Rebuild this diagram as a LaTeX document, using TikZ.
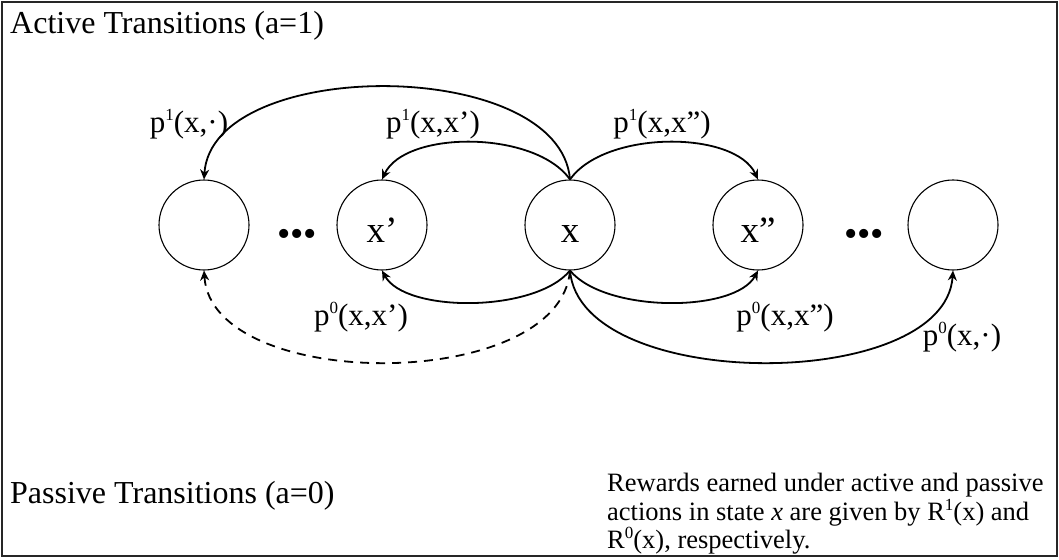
\documentclass[tikz,border=0pt]{standalone}
\usepackage{fontspec}
\setmainfont{Liberation Serif}
\usetikzlibrary{arrows.meta}
\newcommand\supnum[1]{\raisebox{0.38em}{\fontsize{17}{17}\selectfont #1}}
\newcommand\inlabel[1]{\smash{\raisebox{-17pt}{#1}}}

\begin{document}
\begin{tikzpicture}[x=1pt,y=-1pt,
  state/.style={draw, circle, line width=1.1pt, minimum size=90pt, inner sep=0pt, font=\fontsize{37}{40}\selectfont},
  lbl/.style={inner sep=0pt, font=\fontsize{31}{34}\selectfont},
  arrow/.style={-{Stealth[length=10pt,width=9pt]}, line width=1.8pt},
  heading/.style={inner sep=0pt, anchor=west, font=\fontsize{32}{36}\selectfont}]
\useasboundingbox (0,0) rectangle (1059,559);
\draw[line width=1.6pt, black!85] (2,2) rectangle (1057,556);
% states
\node[state] (s0) at (204,225) {};
\node[state] (s1) at (382,225) {\inlabel{x’}};
\node[state] (s2) at (570,225) {\inlabel{x}};
\node[state] (s3) at (758,225) {\inlabel{x”}};
\node[state] (s4) at (953,225) {};
\node[lbl, font=\fontsize{38}{40}\selectfont] (d0) at (297,238) {\textbullet\textbullet\textbullet};
\node[lbl, font=\fontsize{38}{40}\selectfont] (d1) at (864,238) {\textbullet\textbullet\textbullet};
% active transitions
\draw[arrow] (s2.north) .. controls (560,56) and (212,56) .. (s0.north);
\draw[arrow] (s2.north) .. controls (535,130) and (405,130) .. (s1.north);
\draw[arrow] (s2.north) .. controls (605,130) and (735,130) .. (s3.north);
\node[lbl] (a0) at (189,124) {p\supnum{1}(x,·)};
\node[lbl] (a1) at (433,124) {p\supnum{1}(x,x’)};
\node[lbl] (a2) at (662,124) {p\supnum{1}(x,x”)};
% passive transitions
\draw[arrow] (s2.south) .. controls (535,313) and (405,313) .. (s1.south);
\draw[arrow] (s2.south) .. controls (605,313) and (735,313) .. (s3.south);
\draw[arrow] (s2.south) .. controls (580,393) and (945,393) .. (s4.south);
\draw[arrow, dashed, dash pattern=on 9pt off 7pt] (s2.south) .. controls (560,393) and (212,393) .. (s0.south);
\node[lbl] (b1) at (361,317) {p\supnum{0}(x,x’)};
\node[lbl] (b2) at (785,317) {p\supnum{0}(x,x”)};
\node[lbl] (b4) at (962,337) {p\supnum{0}(x,·)};
% headings
\node[heading] (act) at (10,26) {Active Transitions (a=1)};
\node[heading] (pas) at (10,496) {Passive Transitions (a=0)};
\node[inner sep=0pt, anchor=north west, align=left, font=\fontsize{26.5}{28.5}\selectfont] (rew) at (607,473)
  {Rewards earned under active and passive\\actions in state \textit{x} are given by R\supnum{1}(x) and\\R\supnum{0}(x), respectively.};
\end{tikzpicture}
\end{document}
